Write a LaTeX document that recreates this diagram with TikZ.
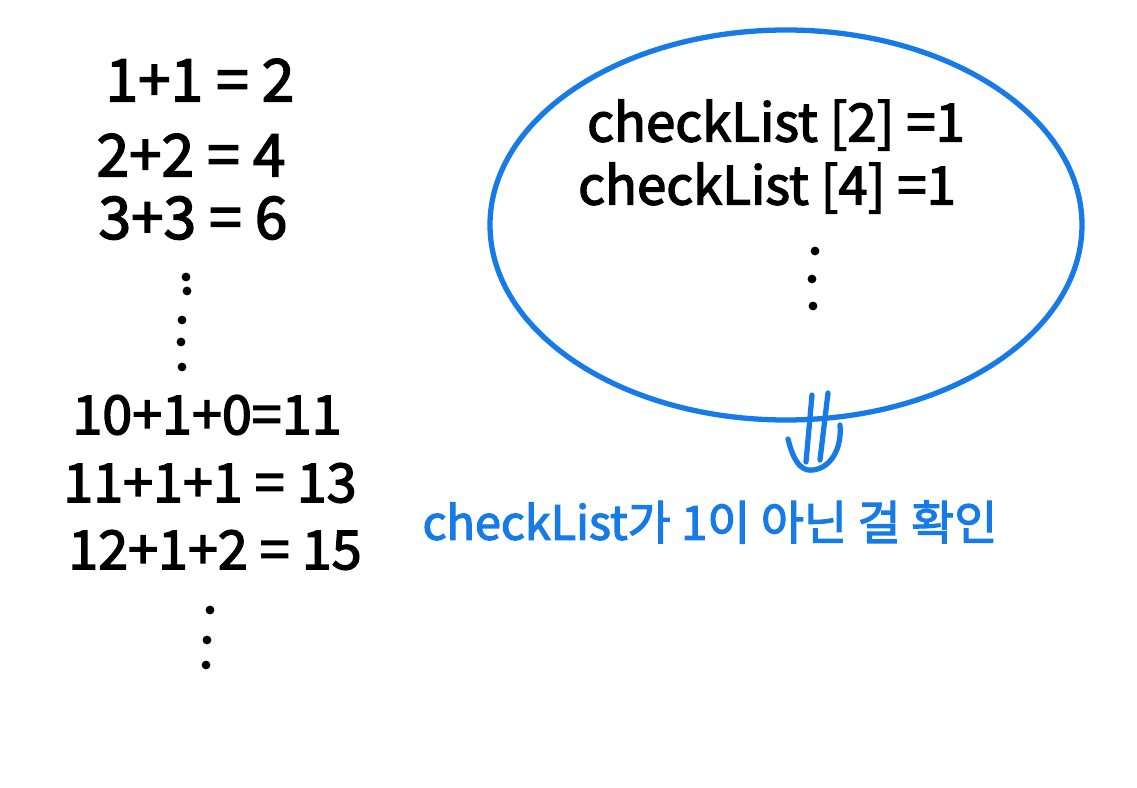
\documentclass[tikz,border=0pt]{standalone}
\usepackage{fontspec}
\setmainfont{Noto Sans CJK KR}
\newfontfamily\hand{Noto Sans CJK KR}[FakeBold=2.6]
\definecolor{pen}{RGB}{22,123,232}
\tikzset{
  eq/.style={inner sep=0pt, font=\hand\fontsize{50}{54}\selectfont, text=black},
  eqb/.style={inner sep=0pt, font=\hand\fontsize{46}{50}\selectfont, text=black},
  cl/.style={inner sep=0pt, font=\hand\fontsize{45}{48}\selectfont, text=black},
  note/.style={inner sep=0pt, font=\hand\fontsize{40}{44}\selectfont, text=pen},
  dot/.style={fill=black, circle, inner sep=0pt, minimum size=7.5pt},
  penline/.style={draw=pen, line width=4.5pt, line cap=round}
}
\begin{document}
\begin{tikzpicture}[x=0.03cm,y=-0.03cm]
\useasboundingbox[fill=white] (0,0) rectangle (1137,788);
% left column
\node[eq] (e1) at (200,80) {1+1 = 2};
\node[eq] (e2) at (191,155) {2+2 = 4};
\node[eq] (e3) at (193,218) {3+3 = 6};
\node[dot] (d1) at (186,277) {};
\node[dot] (d2) at (187,291) {};
\node[dot] (d3) at (182,320) {};
\node[dot] (d4) at (181,342) {};
\node[dot] (d5) at (182,367) {};
\node[eqb] (e4) at (207,415) {10+1+0=11};
\node[eqb] (e5) at (210,483) {11+1+1 = 13};
\node[eqb] (e6) at (215,550) {12+1+2 = 15};
\node[dot] (d6) at (210,610) {};
\node[dot] (d7) at (207,640) {};
\node[dot] (d8) at (206,665) {};
% ellipse
\draw[pen, line width=4.5pt] (786,225) ellipse [x radius=296, y radius=195];
\node[cl] (c1) at (776,125) {checkList [2] =1};
\node[cl] (c2) at (767,188) {checkList [4] =1};
\node[dot] (d9) at (815,251) {};
\node[dot] (d10) at (812,279) {};
\node[dot] (d11) at (813,306) {};
% double arrow
\coordinate (a1t) at (812,395);
\coordinate (a1b) at (806,462);
\coordinate (a2t) at (828,393);
\coordinate (a2b) at (820,460);
\coordinate (ul) at (788,439);
\coordinate (ub) at (813,470);
\coordinate (ur) at (840,425);
\draw[penline] (a1t) -- (a1b);
\draw[penline] (a2t) -- (a2b);
\draw[penline] (ul) .. controls (795,468) and (805,471) .. (ub) .. controls (830,468) and (842,450) .. (ur);
% note
\node[note] (n) at (710,522) {checkList가 1이 아닌 걸 확인};
\end{tikzpicture}
\end{document}
